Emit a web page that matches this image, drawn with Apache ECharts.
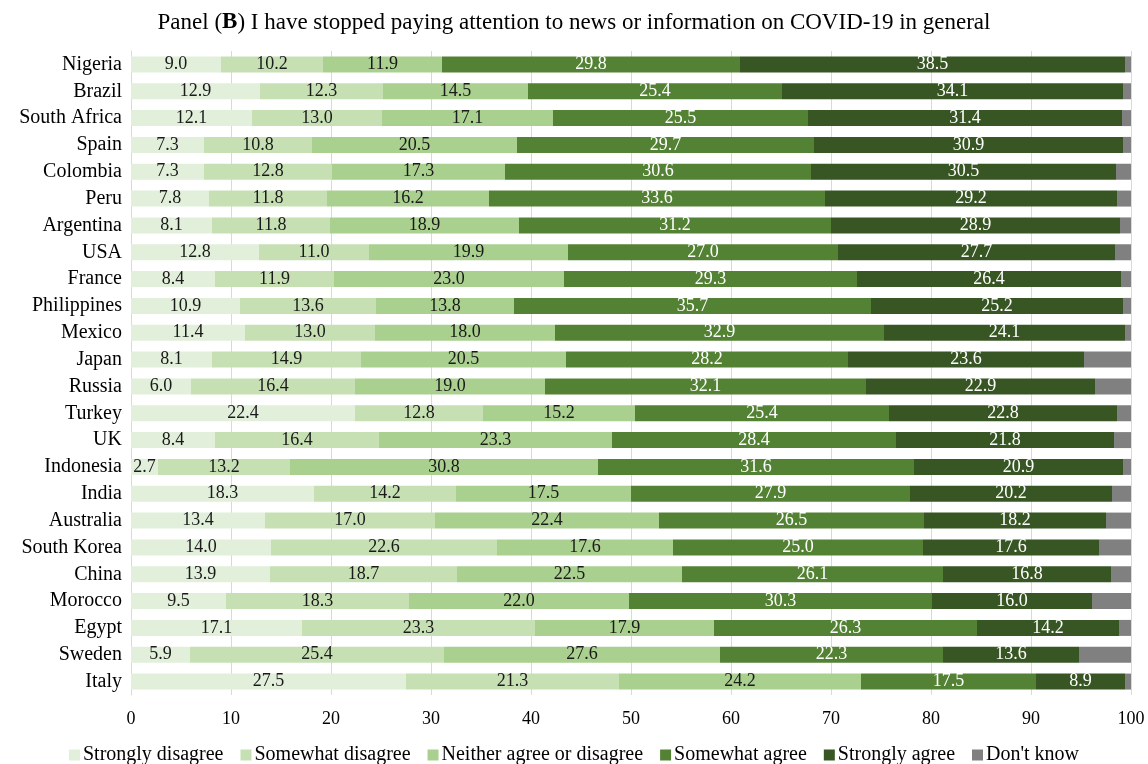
<!DOCTYPE html>
<html><head><meta charset="utf-8">
<script src="https://cdn.jsdelivr.net/npm/echarts@6/dist/echarts.min.js"></script>
<style>html,body{margin:0;padding:0;background:#fff}#c{width:1148px;height:764px}</style>
</head><body><div id="c"></div>
<script>
var countries = ["Nigeria","Brazil","South Africa","Spain","Colombia","Peru","Argentina","USA","France","Philippines","Mexico","Japan","Russia","Turkey","UK","Indonesia","India","Australia","South Korea","China","Morocco","Egypt","Sweden","Italy"];
var stronglyDisagree = [9.0,12.9,12.1,7.3,7.3,7.8,8.1,12.8,8.4,10.9,11.4,8.1,6.0,22.4,8.4,2.7,18.3,13.4,14.0,13.9,9.5,17.1,5.9,27.5];
var somewhatDisagree = [10.2,12.3,13.0,10.8,12.8,11.8,11.8,11.0,11.9,13.6,13.0,14.9,16.4,12.8,16.4,13.2,14.2,17.0,22.6,18.7,18.3,23.3,25.4,21.3];
var neither = [11.9,14.5,17.1,20.5,17.3,16.2,18.9,19.9,23.0,13.8,18.0,20.5,19.0,15.2,23.3,30.8,17.5,22.4,17.6,22.5,22.0,17.9,27.6,24.2];
var somewhatAgree = [29.8,25.4,25.5,29.7,30.6,33.6,31.2,27.0,29.3,35.7,32.9,28.2,32.1,25.4,28.4,31.6,27.9,26.5,25.0,26.1,30.3,26.3,22.3,17.5];
var stronglyAgree = [38.5,34.1,31.4,30.9,30.5,29.2,28.9,27.7,26.4,25.2,24.1,23.6,22.9,22.8,21.8,20.9,20.2,18.2,17.6,16.8,16.0,14.2,13.6,8.9];
var dontKnow = [0.6,0.8,0.9,0.8,1.5,1.4,1.1,1.6,1.0,0.8,0.6,4.7,3.6,1.4,1.7,0.8,1.9,2.5,3.2,2.0,3.9,1.2,5.2,0.6];
var xTicks = [0,10,20,30,40,50,60,70,80,90,100];

var FONT = "Liberation Serif";
var names = ["Strongly disagree","Somewhat disagree","Neither agree or disagree","Somewhat agree","Strongly agree","Don't know"];
var colors = ["#e2efda","#c6e0b4","#a9d08e","#548235","#375623","#808080"];
var datasets = [stronglyDisagree, somewhatDisagree, neither, somewhatAgree, stronglyAgree, dontKnow];

var series = datasets.map(function(d, i){
  return {
    name: names[i], type: 'bar', stack: 'total', data: d, barWidth: 16,
    itemStyle: {color: colors[i]},
    label: {
      show: i < 5, position: 'inside',
      color: i >= 3 ? '#ffffff' : '#1a1a1a',
      fontFamily: FONT, fontSize: 18,
      formatter: function(p){ return p.value.toFixed(1); }
    }
  };
});

var chart = echarts.init(document.getElementById('c'));
chart.setOption({
  animation: false,
  color: colors,
  title: {
    text: '{n|Panel (}{b|B}{n|) I have stopped paying attention to news or information on COVID-19 in general}',
    left: 'center', top: 6,
    textStyle: {
      fontWeight: 'normal',
      rich: {
        n: {fontFamily: FONT, fontSize: 23, color: '#000', fontWeight: 'normal'},
        b: {fontFamily: FONT, fontSize: 23, color: '#000', fontWeight: 'bold'}
      }
    }
  },
  legend: {
    top: 740, left: 'center', itemWidth: 11, itemHeight: 11, itemGap: 17,
    icon: 'rect',
    textStyle: {fontFamily: FONT, fontSize: 20, color: '#000', padding: [0,0,0,-2]},
    data: names
  },
  grid: {left: 131, right: 17, top: 51, bottom: 69, containLabel: false},
  xAxis: {
    type: 'value', min: 0, max: 100, interval: 10,
    axisLine: {show: false}, axisTick: {show: false},
    splitLine: {lineStyle: {color: '#d9d9d9', width: 1}},
    axisLabel: {fontFamily: FONT, fontSize: 18, color: '#000', margin: 15,
      formatter: function(v){ return xTicks.indexOf(v) >= 0 ? String(v) : ''; }}
  },
  yAxis: {
    type: 'category', data: countries, inverse: true,
    axisLine: {show: true, lineStyle: {color: '#d9d9d9'}},
    axisTick: {show: false},
    axisLabel: {fontFamily: FONT, fontSize: 20, color: '#000', margin: 9}
  },
  series: series
});
</script></body></html>
